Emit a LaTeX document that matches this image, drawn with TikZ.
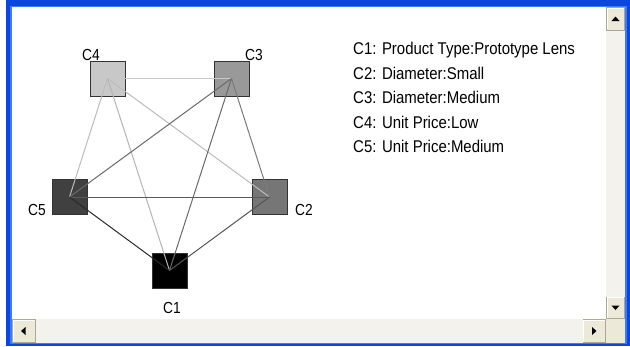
\documentclass[tikz,border=0pt]{standalone}
\usepackage{fontspec}
\setmainfont{Liberation Sans}
\begin{document}
\begin{tikzpicture}[x=1pt,y=-1pt,
  sq/.style={draw=black!80,line width=0.9pt,minimum size=35pt,inner sep=0pt,outer sep=0pt},
  lbl/.style={anchor=base west,inner sep=0pt,font=\fontsize{16}{16}\selectfont},
  leg/.style={anchor=base west,inner sep=0pt,font=\fontsize{17}{17}\selectfont},
  edge/.style={line width=1.0pt},
  btn/.style={fill=xpface,draw=xpshadow,line width=0.8pt},
  arr/.style={fill=black,draw=none}]
\definecolor{xpblue}{HTML}{0A46E0}
\definecolor{xplight}{HTML}{3D7BF0}
\definecolor{xpface}{HTML}{ECE9D8}
\definecolor{xptrack}{HTML}{F3F2EC}
\definecolor{xpshadow}{HTML}{ACA899}
\useasboundingbox (0,0) rectangle (630,346);
\fill[white] (0,0) rectangle (630,346);
% window frame
\fill[xpblue] (6,0) rectangle (630,346);
\fill[xplight] (10,6) rectangle (627,344);
\fill[white] (12,7) rectangle (625,343);
% vertical scrollbar
\fill[xptrack] (606,7) rectangle (625,319);
\draw[btn] (606.4,7.4) rectangle (624.6,30);
\draw[white,line width=0.8pt] (607.2,29.2) -- (607.2,8.2) -- (623.8,8.2);
\draw[btn] (606.4,297) rectangle (624.6,318.6);
\draw[white,line width=0.8pt] (607.2,317.8) -- (607.2,297.8) -- (623.8,297.8);
\fill[arr] (611.5,21) -- (619.5,21) -- (615.5,16.5) -- cycle;
\fill[arr] (611.5,305.5) -- (619.5,305.5) -- (615.5,310) -- cycle;
% horizontal scrollbar
\fill[xptrack] (12,319) rectangle (606,343);
\draw[btn] (12.4,319.4) rectangle (35,342.6);
\draw[white,line width=0.8pt] (13.2,341.8) -- (13.2,320.2) -- (34.2,320.2);
\draw[btn] (583,319.4) rectangle (605.6,342.6);
\draw[white,line width=0.8pt] (583.8,341.8) -- (583.8,320.2) -- (604.8,320.2);
\fill[xpface] (606,319) rectangle (625,343);
\fill[arr] (25.5,327) -- (25.5,335) -- (21,331) -- cycle;
\fill[arr] (592,327) -- (592,335) -- (596.5,331) -- cycle;
% nodes
\node[sq,fill={rgb,255:red,200;green,200;blue,200}] (c4) at (107.5,78.5) {};
\node[sq,fill={rgb,255:red,153;green,153;blue,153}] (c3) at (231.5,78.5) {};
\node[sq,fill={rgb,255:red,64;green,64;blue,64}] (c5) at (69.5,197) {};
\node[sq,fill={rgb,255:red,118;green,118;blue,118}] (c2) at (269.5,197) {};
\node[sq,fill=black] (c1) at (169.5,270.5) {};
% edges
\draw[edge,color={rgb,255:red,200;green,200;blue,200}] (c4.center) -- (c3.center);
\draw[edge,color={rgb,255:red,188;green,188;blue,188}] (c4.center) -- (c5.center);
\draw[edge,color={rgb,255:red,180;green,180;blue,180}] (c4.center) -- (c1.center);
\draw[edge,color={rgb,255:red,188;green,188;blue,188}] (c4.center) -- (c2.center);
\draw[edge,color={rgb,255:red,106;green,106;blue,106}] (c3.center) -- (c5.center);
\draw[edge,color={rgb,255:red,106;green,106;blue,106}] (c3.center) -- (c1.center);
\draw[edge,color={rgb,255:red,122;green,122;blue,122}] (c3.center) -- (c2.center);
\draw[edge,color={rgb,255:red,90;green,90;blue,90}] (c5.center) -- (c2.center);
\draw[edge,color={rgb,255:red,42;green,42;blue,42}] (c5.center) -- (c1.center);
\draw[edge,color={rgb,255:red,85;green,85;blue,85}] (c2.center) -- (c1.center);
% node labels
\node[lbl] (l4) at (82,60) {\scalebox{0.86}[1]{C4}};
\node[lbl] (l3) at (245,60) {\scalebox{0.86}[1]{C3}};
\node[lbl] (l5) at (28,215) {\scalebox{0.86}[1]{C5}};
\node[lbl] (l2) at (295,215) {\scalebox{0.86}[1]{C2}};
\node[lbl] (l1) at (163,313) {\scalebox{0.86}[1]{C1}};
% legend
\node[leg] (t1) at (353,54) {\scalebox{0.88}[1]{C1: Product Type:Prototype Lens}};
\node[leg] (t2) at (353,79) {\scalebox{0.88}[1]{C2: Diameter:Small}};
\node[leg] (t3) at (353,103.5) {\scalebox{0.88}[1]{C3: Diameter:Medium}};
\node[leg] (t4) at (353,128) {\scalebox{0.88}[1]{C4: Unit Price:Low}};
\node[leg] (t5) at (353,152.5) {\scalebox{0.88}[1]{C5: Unit Price:Medium}};
\end{tikzpicture}
\end{document}
